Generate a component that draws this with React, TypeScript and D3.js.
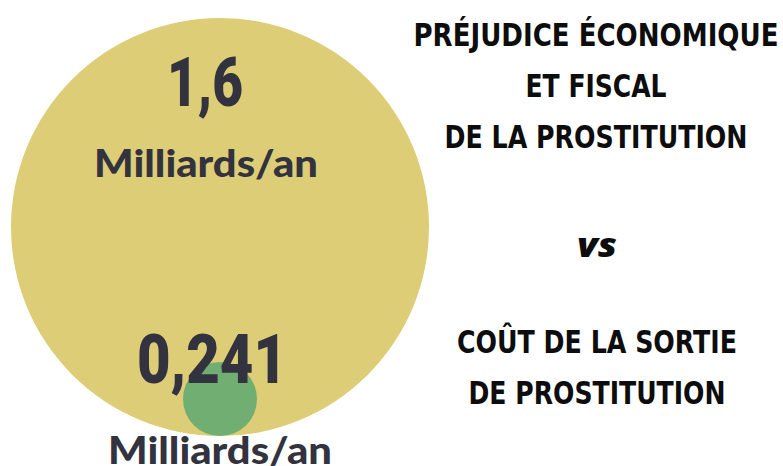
import React from "react";
import * as d3 from "d3";

const categories = ["Préjudice économique et fiscal", "Coût de la sortie de prostitution"];
const values = [1.6, 0.241];
const valueLabels = ["1,6", "0,241"];
const unitLabel = "Milliards/an";
const titleTop = ["PRÉJUDICE ÉCONOMIQUE", "ET FISCAL", "DE LA PROSTITUTION"];
const vsLabel = "vs";
const titleBottom = ["COÛT DE LA SORTIE", "DE PROSTITUTION"];
const colors = ["#dccd76", "#71ae71"];

const W = 783;
const H = 466;

export default function App() {
  const rScale = d3.scaleLinear().domain(d3.extent(values) as [number, number]).range([37, 209]);
  const cx = 220;
  const bottom = 436;
  const titleFont = "'Liberation Sans Narrow', 'DejaVu Sans Condensed', Roboto, sans-serif";
  const numFont = "Roboto, 'Liberation Sans Narrow', sans-serif";
  const unitFont = "Lato, 'Open Sans', sans-serif";
  const textColor = "#33323f";

  const numX = [205, 212];
  const numY = [106, 383];
  const numW = [76, 150];
  const unitX = [206, 220];
  const unitY = [177, 464];

  const titleLineY = [46, 97, 148];
  const titleLineW = [365, 141, 303];
  const bottomLineY = [353, 404];
  const bottomLineW = [280, 257];
  const tx = 596;

  return (
    <svg
      width={W}
      height={H}
      style={{ position: "fixed", left: 0, top: 0, background: "#fff" }}
    >
      {values.map((v, i) => {
        const r = rScale(v);
        return (
          <circle key={categories[i]} cx={cx} cy={bottom - r} r={r} fill={colors[i]} />
        );
      })}
      {valueLabels.map((lab, i) => (
        <g key={lab}>
          <text
            x={numX[i]}
            y={numY[i]}
            textAnchor="middle"
            fontFamily={numFont}
            fontWeight={900}
            fontSize={68}
            fill={textColor}
            textLength={numW[i]}
            lengthAdjust="spacingAndGlyphs"
          >
            {lab}
          </text>
          <text
            x={unitX[i]}
            y={unitY[i]}
            textAnchor="middle"
            fontFamily={unitFont}
            fontWeight={900}
            fontSize={37}
            fill={textColor}
            textLength={224}
            lengthAdjust="spacingAndGlyphs"
          >
            {unitLabel}
          </text>
        </g>
      ))}
      {titleTop.map((t, i) => (
        <text
          key={t}
          x={tx}
          y={titleLineY[i]}
          textAnchor="middle"
          fontFamily={titleFont}
          fontWeight={700}
          fontSize={32}
          fill="#0d0d0d"
          textLength={titleLineW[i]}
          lengthAdjust="spacingAndGlyphs"
        >
          {t}
        </text>
      ))}
      <text
        x={597}
        y={257}
        textAnchor="middle"
        fontFamily="'Open Sans', 'DejaVu Sans', sans-serif"
        fontWeight={800}
        fontStyle="italic"
        fontSize={34}
        fill="#0d0d0d"
        textLength={40}
        lengthAdjust="spacingAndGlyphs"
      >
        {vsLabel}
      </text>
      {titleBottom.map((t, i) => (
        <text
          key={t}
          x={tx + 1}
          y={bottomLineY[i]}
          textAnchor="middle"
          fontFamily={titleFont}
          fontWeight={700}
          fontSize={32}
          fill="#0d0d0d"
          textLength={bottomLineW[i]}
          lengthAdjust="spacingAndGlyphs"
        >
          {t}
        </text>
      ))}
    </svg>
  );
}
